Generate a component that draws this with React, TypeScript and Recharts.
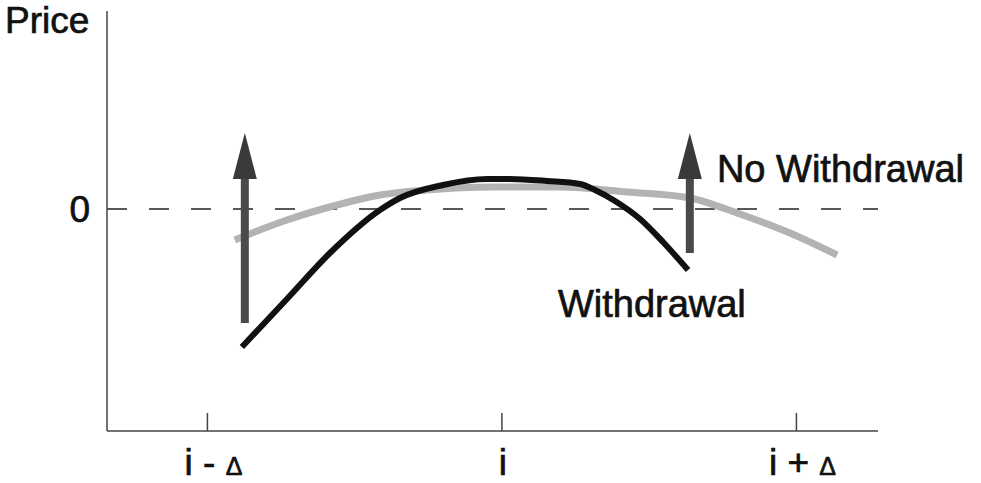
import React from 'react';
import {
  LineChart,
  Line,
  XAxis,
  YAxis,
  ReferenceLine,
  ReferenceDot,
} from 'recharts';

// price curves, x in units of delta around i, y relative to the zero price
const withdrawal = [
  { x: -0.883, y: -2.76 },
  { x: -0.73, y: -1.8 },
  { x: -0.584, y: -0.88 },
  { x: -0.414, y: -0.02 },
  { x: -0.346, y: 0.22 },
  { x: -0.2, y: 0.48 },
  { x: -0.051, y: 0.6 },
  { x: 0.027, y: 0.6 },
  { x: 0.153, y: 0.56 },
  { x: 0.265, y: 0.5 },
  { x: 0.316, y: 0.38 },
  { x: 0.384, y: 0.16 },
  { x: 0.469, y: -0.2 },
  { x: 0.547, y: -0.66 },
  { x: 0.632, y: -1.22 },
];

const noWithdrawal = [
  { x: -0.907, y: -0.62 },
  { x: -0.73, y: -0.22 },
  { x: -0.56, y: 0.08 },
  { x: -0.414, y: 0.28 },
  { x: -0.255, y: 0.38 },
  { x: -0.031, y: 0.44 },
  { x: 0.197, y: 0.44 },
  { x: 0.424, y: 0.34 },
  { x: 0.638, y: 0.22 },
  { x: 0.808, y: -0.1 },
  { x: 0.978, y: -0.48 },
  { x: 1.138, y: -0.92 },
];

// jump arrows: x position, from, to
const arrows = [
  { x: -0.873, from: -2.28, to: 1.52 },
  { x: 0.638, from: -0.88, to: 1.52 },
];

const xTickValues = [-1, 0, 1];
const xTickMain = ['i - ', 'i', 'i + '];
const xTickSub = ['Δ', '', 'Δ'];

const yTickValues = [0];

const curveLabels = [
  { text: 'No Withdrawal', x: 0.73, y: 0.54 },
  { text: 'Withdrawal', x: 0.19, y: -2.16 },
];

const FONT = '"Liberation Sans", Arial, Helvetica, sans-serif';
const AXIS = '#444';
const INK = '#111';

const XTick = (props: any) => {
  const { x, y, payload } = props;
  const i = xTickValues.indexOf(payload.value);
  const shift = xTickSub[i] ? 6 : 1;
  return (
    <g>
      <line x1={x} y1={y - 18} x2={x} y2={y} stroke={AXIS} strokeWidth={1.5} />
      <text
        x={x + shift}
        y={y + 44}
        textAnchor="middle"
        fontSize={37}
        fill={INK}
        stroke={INK}
        strokeWidth={0.7}
        fontFamily={FONT}
      >
        {xTickMain[i]}
        {xTickSub[i] ? <tspan fontSize={25}>{xTickSub[i]}</tspan> : null}
      </text>
    </g>
  );
};

const ArrowShape = (props: any) => {
  const { x1, y1, x2, y2 } = props;
  const headH = 46;
  const headW = 12;
  return (
    <g>
      <line x1={x1} y1={y1} x2={x2} y2={y2 + headH - 4} stroke="#4a4a4a" strokeWidth={8} />
      <polygon
        points={`${x2},${y2} ${x2 - headW},${y2 + headH} ${x2 + headW},${y2 + headH}`}
        fill="#3a3a3a"
      />
    </g>
  );
};

const App: React.FC = () => {
  return (
    <div style={{ position: 'absolute', left: 0, top: 0, background: '#fff' }}>
      <LineChart
        width={981}
        height={483}
        margin={{ top: 11, right: 103, bottom: 0, left: 0 }}
      >
        <XAxis
          type="number"
          dataKey="x"
          domain={[-1.341, 1.277]}
          ticks={xTickValues}
          allowDataOverflow
          height={52}
          tickSize={0}
          tickMargin={0}
          tickLine={false}
          tick={<XTick />}
          stroke={AXIS}
          strokeWidth={1.5}
        />
        <YAxis
          type="number"
          dataKey="y"
          domain={[-4.44, 3.96]}
          ticks={yTickValues}
          allowDataOverflow
          width={107}
          tickSize={0}
          tickMargin={17}
          tickLine={false}
          tick={{ fontSize: 37, fill: INK, stroke: INK, strokeWidth: 0.7, fontFamily: FONT }}
          stroke={AXIS}
          strokeWidth={1.5}
          label={(p: any) => (
            <text
              x={(p.viewBox?.x ?? 0) + 5}
              y={(p.viewBox?.y ?? 11) + 22}
              fontSize={37}
              fill={INK}
              stroke={INK}
              strokeWidth={0.7}
              fontFamily={FONT}
            >
              Price
            </text>
          )}
        />
        <ReferenceLine y={0} stroke="#222" strokeWidth={1.5} strokeDasharray="20 22" />
        <Line
          data={noWithdrawal}
          dataKey="y"
          type="monotone"
          stroke="#b3b3b3"
          strokeWidth={7}
          dot={false}
          activeDot={false}
          isAnimationActive={false}
        />
        <Line
          data={withdrawal}
          dataKey="y"
          type="monotone"
          stroke={INK}
          strokeWidth={6}
          dot={false}
          activeDot={false}
          isAnimationActive={false}
        />
        {arrows.map((a, k) => (
          <ReferenceLine
            key={`arrow-${k}`}
            segment={[
              { x: a.x, y: a.from },
              { x: a.x, y: a.to },
            ]}
            shape={<ArrowShape />}
          />
        ))}
        {curveLabels.map((c) => (
          <ReferenceDot
            key={c.text}
            x={c.x}
            y={c.y}
            r={0}
            fill="none"
            stroke="none"
            label={(p: any) => (
              <text
                x={p.viewBox?.x ?? 0}
                y={p.viewBox?.y ?? 0}
                fontSize={38}
                fill={INK}
                stroke={INK}
                strokeWidth={0.7}
                fontFamily={FONT}
              >
                {c.text}
              </text>
            )}
          />
        ))}
      </LineChart>
    </div>
  );
};

export default App;
